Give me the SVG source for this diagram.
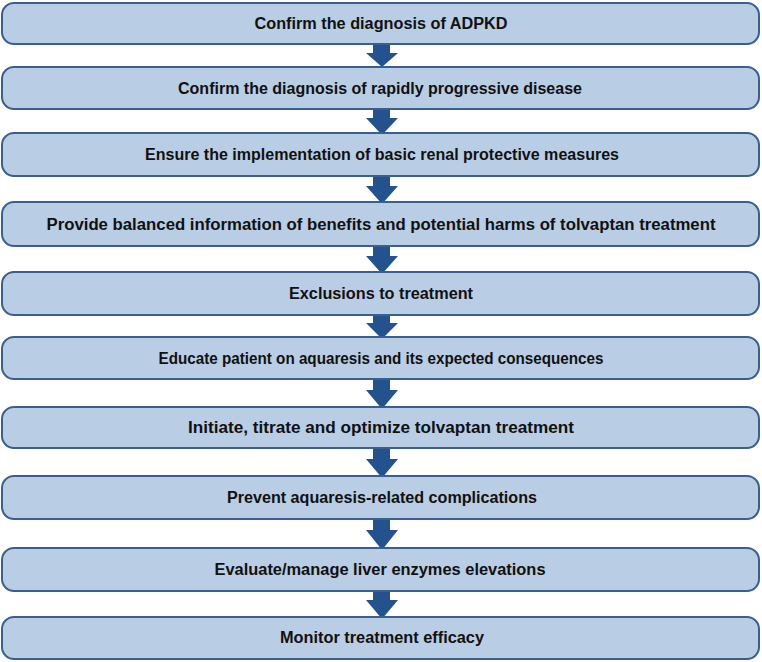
<svg xmlns="http://www.w3.org/2000/svg" width="762" height="662" viewBox="0 0 762 662">
<style>
.box{fill:#B9CDE5;stroke:#3A5F8C;stroke-width:2}
.t{font-family:"Liberation Sans",Arial,sans-serif;font-weight:bold;font-size:16px;fill:#111;text-anchor:middle}
.arr{fill:#23528F}
</style>
<rect width="762" height="662" fill="#fff"/>
<g id="connectors">
<path class="arr" d="M373,45 H390 V53 H398 L382,67 L366,53 H373 Z"/>
<path class="arr" d="M373,110 H390 V118 H398 L382,135 L366,118 H373 Z"/>
<path class="arr" d="M373,177 H390 V186 H398 L382,204 L366,186 H373 Z"/>
<path class="arr" d="M373,247 H390 V256 H398 L382,274 L366,256 H373 Z"/>
<path class="arr" d="M373,316 H390 V323 H398 L382,339 L366,323 H373 Z"/>
<path class="arr" d="M373,380 H390 V390 H398 L382,409 L366,390 H373 Z"/>
<path class="arr" d="M373,449 H390 V459 H398 L382,478 L366,459 H373 Z"/>
<path class="arr" d="M373,520 H390 V530 H398 L382,550 L366,530 H373 Z"/>
<path class="arr" d="M373,592 H390 V600 H398 L382,619 L366,600 H373 Z"/>
</g>
<g id="n1"><rect class="box" x="2" y="3" width="757" height="41" rx="12"/><text class="t" x="381" y="29" textLength="253" lengthAdjust="spacingAndGlyphs">Confirm the diagnosis of ADPKD</text></g>
<g id="n2"><rect class="box" x="2" y="67" width="757" height="42" rx="12"/><text class="t" x="380" y="94" textLength="404" lengthAdjust="spacingAndGlyphs">Confirm the diagnosis of rapidly progressive disease</text></g>
<g id="n3"><rect class="box" x="2" y="133" width="757" height="43" rx="12"/><text class="t" x="382" y="160" textLength="474" lengthAdjust="spacingAndGlyphs">Ensure the implementation of basic renal protective measures</text></g>
<g id="n4"><rect class="box" x="2" y="202" width="757" height="44" rx="12"/><text class="t" x="381" y="230" textLength="669" lengthAdjust="spacingAndGlyphs">Provide balanced information of benefits and potential harms of tolvaptan treatment</text></g>
<g id="n5"><rect class="box" x="2" y="272" width="757" height="43" rx="12"/><text class="t" x="381" y="299" textLength="184" lengthAdjust="spacingAndGlyphs">Exclusions to treatment</text></g>
<g id="n6"><rect class="box" x="2" y="337" width="757" height="42" rx="12"/><text class="t" x="381" y="364" textLength="445" lengthAdjust="spacingAndGlyphs">Educate patient on aquaresis and its expected consequences</text></g>
<g id="n7"><rect class="box" x="2" y="407" width="757" height="41" rx="12"/><text class="t" x="381" y="433" textLength="386" lengthAdjust="spacingAndGlyphs">Initiate, titrate and optimize tolvaptan treatment</text></g>
<g id="n8"><rect class="box" x="2" y="476" width="757" height="43" rx="12"/><text class="t" x="382" y="503" textLength="310" lengthAdjust="spacingAndGlyphs">Prevent aquaresis-related complications</text></g>
<g id="n9"><rect class="box" x="2" y="548" width="757" height="43" rx="12"/><text class="t" x="380" y="575" textLength="331" lengthAdjust="spacingAndGlyphs">Evaluate/manage liver enzymes elevations</text></g>
<g id="n10"><rect class="box" x="2" y="617" width="757" height="42" rx="12"/><text class="t" x="382" y="643" textLength="204" lengthAdjust="spacingAndGlyphs">Monitor treatment efficacy</text></g>
</svg>
